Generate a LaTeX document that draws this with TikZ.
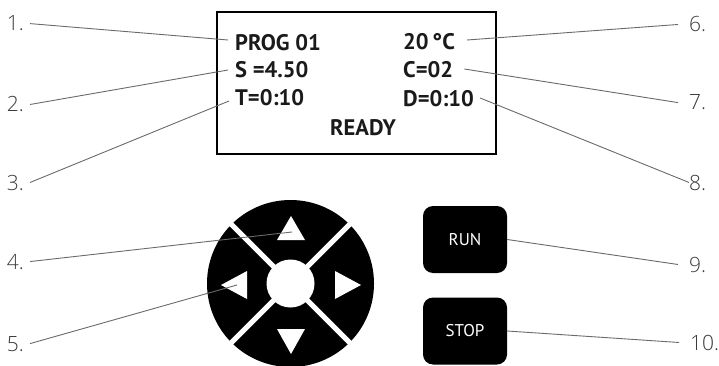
\documentclass[tikz,border=0pt]{standalone}
\usepackage{fontspec}
\usepackage{tikz}
\usetikzlibrary{calc,positioning}
\setmainfont{PT Sans}
\newfontfamily\lcdfamily{PT Sans}
\IfFontExistsTF{Open Sans Light}{\newfontfamily\numfamily{Open Sans Light}}{\newfontfamily\numfamily{Open Sans}}
\definecolor{ink}{HTML}{1A1A1A}
\definecolor{numgray}{HTML}{3A3A3A}
\definecolor{leadgray}{HTML}{6A6A6A}
\tikzset{
  lcd/.style={font=\lcdfamily\bfseries\fontsize{22.5}{24}\selectfont,text=ink,
    anchor=base west,inner sep=0pt},
  numleft/.style={font=\numfamily\fontsize{21}{22}\selectfont,text=numgray,
    anchor=base east,inner xsep=6pt,inner ysep=0pt},
  numright/.style={font=\numfamily\fontsize{21}{22}\selectfont,text=numgray,
    anchor=base west,inner xsep=11pt,inner ysep=0pt},
  key/.style={fill=black,rounded corners=10pt,minimum width=84pt,
    minimum height=67pt,text=white,font=\fontsize{17}{18}\selectfont},
  screen/.style={draw=black,line width=2pt},
  leader/.style={draw=leadgray,line width=0.9pt}
}
\begin{document}
\begin{tikzpicture}[x=1pt,y=-1pt]
  \useasboundingbox (0,0) rectangle (719,366);
  \draw[screen] (217,12) rectangle (496,154);
  \node[lcd] (prog) at (235,51) {PROG 01};
  \node[lcd] (speed) at (235,78) {S =4.50};
  \node[lcd] (time) at (235,106) {T=0:10};
  \node[lcd] (temp) at (403,50) {20\,°C};
  \node[lcd] (cycles) at (403,78) {C=02};
  \node[lcd] (delay) at (403,107) {D=0:10};
  \node[lcd,anchor=base] (ready) at (363,136) {READY};
  \coordinate (dial) at (290.5,283.5);
  \fill[black] (dial) circle (83.5);
  \draw[white,line width=5pt] ($(dial)+(-70,-70)$) -- ($(dial)+(70,70)$);
  \draw[white,line width=5pt] ($(dial)+(-70,70)$) -- ($(dial)+(70,-70)$);
  \fill[white] (dial) circle (24);
  \fill[white] (277,240) -- (305,240) -- (291,216) -- cycle;
  \fill[white] (277,329) -- (305,329) -- (291,354) -- cycle;
  \fill[white] (247,271) -- (247,299) -- (221,285) -- cycle;
  \fill[white] (335,271) -- (335,299) -- (361,285) -- cycle;
  \coordinate (upkey) at (292,232);
  \coordinate (leftkey) at (237,285);
  \node[key] (runkey) at (465,239.5) {RUN};
  \node[key] (stopkey) at (465,331) {STOP};
  \node[numleft] (l1) at (30,31) {1.};
  \node[numleft] (l2) at (30,112) {2.};
  \node[numleft] (l3) at (30,190) {3.};
  \node[numleft] (l4) at (30,269) {4.};
  \node[numleft] (l5) at (30,351) {5.};
  \node[numright] (l6) at (678,32) {6.};
  \node[numright] (l7) at (678,110) {7.};
  \node[numright] (l8) at (678,190) {8.};
  \node[numright] (l9) at (678,272) {9.};
  \node[numright] (l10) at (679,350) {10.};
  \draw[leader] (l1.east) -- ($(prog.base west)+(-7,-11)$);
  \draw[leader] (l2.east) -- ($(speed.base west)+(-7,-8)$);
  \draw[leader] (l3.east) -- ($(time.base west)+(-6,-5)$);
  \draw[leader] (l4.east) -- (upkey);
  \draw[leader] (l5.east) -- (leftkey);
  \draw[leader] ($(temp.base east)+(12,-10)$) -- (l6.west);
  \draw[leader] ($(cycles.base east)+(11,-9)$) -- (l7.west);
  \draw[leader] ($(delay.base east)+(6,-9)$) -- ([xshift=11pt]l8.west);
  \draw[leader] (runkey.east) -- (l9.west);
  \draw[leader] (stopkey.east) -- (l10.west);
\end{tikzpicture}
\end{document}
